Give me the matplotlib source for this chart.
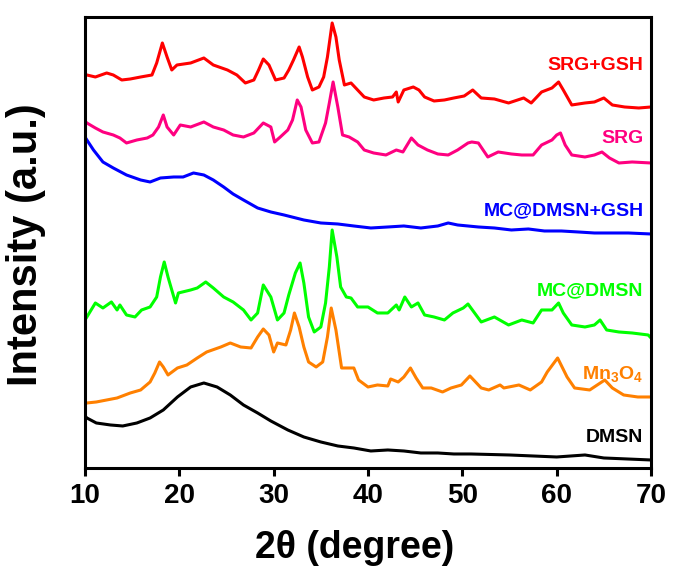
import numpy as np
import matplotlib
matplotlib.use("Agg")
import matplotlib.pyplot as plt

plt.rcParams['font.family'] = ['Liberation Sans', 'DejaVu Sans']
plt.rcParams['font.weight'] = 'bold'
plt.rcParams['mathtext.fontset'] = 'custom'
plt.rcParams['mathtext.rm'] = 'Liberation Sans:bold'
plt.rcParams['mathtext.it'] = 'Liberation Sans:bold'
plt.rcParams['mathtext.bf'] = 'Liberation Sans:bold'

# stacked XRD patterns, intensity in a.u. (offsets already included)
srg_gsh_x = [10.0, 10.2, 11.1, 12.3, 13.0, 13.9, 14.8, 15.9, 17.1, 17.6, 18.2, 18.7, 19.2, 19.75,
             21.2, 22.6, 23.6, 25.1, 26.1, 27.0, 27.9, 28.4, 28.9, 29.5, 30.2, 31.1, 31.6, 32.1,
             32.7, 33.05, 33.6, 34.1, 34.8, 35.3, 35.7, 36.2, 36.6, 36.95, 37.5, 38.2, 38.7,
             39.6, 40.6, 41.7, 42.6, 43.0, 43.2, 43.8, 44.8, 45.4, 46.0, 47.0, 48.1, 49.1,
             50.2, 51.1, 52.0, 53.4, 54.9, 56.5, 57.3, 58.4, 59.5, 60.2, 60.7, 61.6, 63.0,
             64.0, 65.0, 65.9, 67.2, 68.7, 70.0]
srg_gsh_y = [392, 393, 391, 395, 393, 388, 389, 391, 393, 405, 425, 411, 398, 403,
             405, 410, 403, 398, 393, 385, 388, 398, 409, 403, 388, 390, 398, 408,
             421, 411, 391, 378, 381, 391, 411, 445, 431, 408, 383, 385, 380,
             371, 368, 370, 371, 376, 366, 378, 381, 378, 371, 367, 368, 370,
             372, 378, 370, 369, 365, 370, 365, 376, 380, 386, 378, 363, 365,
             366, 370, 363, 361, 360, 361]

srg_x = [10.0, 10.2, 11.1, 11.9, 13.0, 13.7, 14.4, 15.5, 16.6, 17.2, 17.8, 18.3, 18.7, 19.4,
         20.1, 21.2, 22.6, 23.6, 24.7, 25.7, 26.8, 27.9, 28.9, 29.7, 30.1, 30.7, 31.5, 32.0,
         32.5, 32.9, 33.4, 34.1, 34.8, 35.5, 35.9, 36.3, 36.8, 37.3, 38.0, 38.9, 39.6, 40.6,
         41.9, 43.0, 43.7, 44.6, 45.3, 46.3, 47.4, 48.5, 49.5, 50.6, 51.0, 51.7, 52.7, 53.8,
         55.2, 56.3, 57.5, 58.4, 59.5, 60.0, 60.4, 60.9, 61.6, 63.0, 64.0, 64.8, 65.6, 66.6,
         68.0, 70.0]
srg_y = [347, 345, 340, 336, 333, 330, 325, 328, 330, 333, 341, 353, 341, 333,
         343, 341, 346, 341, 338, 333, 331, 335, 345, 341, 326, 331, 338, 348,
         368, 361, 338, 325, 326, 345, 365, 386, 361, 333, 331, 326, 318, 315,
         313, 318, 316, 330, 323, 318, 314, 313, 318, 325, 326, 325, 311, 316,
         314, 313, 313, 323, 328, 333, 335, 323, 313, 311, 313, 316, 310, 305,
         306, 305]

mc_gsh_x = [10.0, 10.2, 10.9, 11.9, 13.0, 14.4, 15.9, 16.9, 18.0, 19.4, 20.4, 21.5, 22.6, 23.6,
            24.7, 25.7, 26.8, 28.3, 29.7, 31.1, 33.2, 35.0, 36.8, 38.5, 40.3, 42.1, 43.8,
            45.6, 47.4, 48.5, 49.5, 51.7, 53.4, 55.2, 57.0, 58.7, 60.5, 62.3, 64.0, 65.9,
            67.6, 70.0]
mc_gsh_y = [331, 328, 318, 306, 300, 293, 288, 286, 290, 291, 291, 295, 293, 288,
            281, 274, 268, 260, 256, 253, 248, 245, 244, 242, 240, 241, 242,
            240, 242, 245, 243, 241, 240, 238, 239, 237, 237, 236, 235, 235,
            235, 234]

mc_x = [10.0, 10.2, 11.1, 11.9, 12.8, 13.4, 13.7, 14.4, 15.3, 16.0, 16.9, 17.6, 18.0, 18.4,
        18.8, 19.6, 19.9, 21.2, 21.9, 22.8, 23.6, 24.7, 25.7, 26.8, 27.6, 28.3, 28.9, 29.7,
        30.4, 31.1, 31.6, 32.3, 32.8, 33.2, 33.7, 34.3, 35.0, 35.5, 35.9, 36.2, 36.7, 37.1,
        37.7, 38.2, 38.9, 40.0, 41.0, 42.1, 43.0, 43.3, 43.9, 44.6, 45.3, 46.0, 47.0, 48.1,
        49.0, 50.1, 50.6, 51.3, 52.0, 53.4, 54.9, 56.3, 57.5, 58.4, 59.5, 60.2, 60.7, 61.6,
        63.0, 64.0, 64.6, 65.3, 66.6, 68.0, 69.7, 70.0]
mc_y = [148, 151, 165, 160, 166, 158, 163, 153, 151, 158, 161, 171, 191, 206,
        191, 165, 175, 178, 180, 186, 180, 171, 166, 158, 148, 155, 183, 171,
        148, 155, 173, 195, 205, 185, 151, 136, 141, 165, 201, 238, 211, 181,
        171, 170, 161, 161, 155, 155, 163, 158, 171, 161, 165, 153, 151, 148,
        155, 160, 164, 155, 146, 151, 143, 148, 145, 158, 158, 165, 155, 143,
        141, 143, 148, 138, 136, 135, 133, 130]

mn3o4_x = [10.0, 10.2, 11.2, 12.3, 13.4, 14.8, 15.9, 16.9, 17.4, 17.9, 18.3, 18.8, 19.8, 20.8,
           21.9, 22.9, 24.4, 25.4, 26.5, 27.6, 28.3, 28.9, 29.5, 30.0, 30.4, 31.3, 31.8, 32.2,
           32.7, 33.2, 33.7, 34.5, 35.2, 35.7, 36.1, 36.6, 37.2, 37.8, 38.5, 39.0, 40.0, 41.0,
           42.1, 42.4, 43.2, 43.8, 44.5, 45.1, 45.8, 46.7, 47.9, 48.8, 49.9, 50.8, 52.0, 52.8,
           54.0, 54.4, 56.0, 57.2, 58.4, 59.0, 60.1, 61.1, 61.9, 63.5, 65.1, 65.9, 67.1, 68.6,
           70.0]
mn3o4_y = [64, 65, 66, 68, 70, 75, 78, 86, 95, 106, 101, 93, 100, 103,
           110, 116, 121, 125, 121, 120, 131, 139, 133, 116, 125, 123, 138, 155,
           141, 121, 106, 101, 106, 131, 160, 138, 100, 100, 100, 88, 81, 83,
           82, 89, 86, 91, 100, 90, 80, 80, 76, 80, 83, 92, 80, 78,
           83, 80, 83, 78, 86, 96, 110, 91, 80, 78, 88, 80, 73, 71,
           71]

dmsn_x = [10.0, 10.2, 11.2, 12.7, 14.0, 15.5, 16.9, 18.3, 19.8, 21.2, 22.6, 24.0, 25.4, 26.8,
          28.3, 29.7, 31.5, 33.2, 35.0, 36.8, 38.5, 40.3, 42.1, 43.8, 45.6, 47.4, 49.1, 50.9,
          55.0, 60.0, 63.0, 65.0, 70.0]
dmsn_y = [52, 50, 45, 43, 42, 45, 50, 58, 71, 81, 85, 81, 73, 63,
          55, 47, 38, 31, 26, 22, 20, 17, 18, 17, 15, 15, 14, 14,
          13, 11, 13, 10, 8]

names = ['SRG+GSH', 'SRG', 'MC@DMSN+GSH', 'MC@DMSN', r'Mn$_3$O$_4$', 'DMSN']
colors = ['#ff0000', '#ff0080', '#0000ff', '#00ff00', '#ff8000', '#000000']
label_y = [402, 329, 257, 177, 94, 30]

fig = plt.figure(figsize=(6.74, 5.74), dpi=100)
ax = fig.add_axes([0.1261, 0.1847, 0.8398, 0.7857])

series = [(srg_gsh_x, srg_gsh_y), (srg_x, srg_y), (mc_gsh_x, mc_gsh_y),
          (mc_x, mc_y), (mn3o4_x, mn3o4_y), (dmsn_x, dmsn_y)]
for (xs, ys), c, name, ly in zip(series, colors, names, label_y):
    ax.plot(xs, ys, color=c, lw=2.2)
    ax.text(69.2, ly, name, color=c, fontsize=14, fontweight='bold',
            ha='right', va='center')

ax.set_xlim(10, 70)
ax.set_ylim(0, 451)
ax.set_xticks(np.arange(10, 71, 10))
ax.set_yticks([])
ax.tick_params(axis='x', direction='out', length=6, width=2.2, labelsize=20, pad=5)
for lab in ax.get_xticklabels():
    lab.set_fontweight('bold')
for s in ax.spines.values():
    s.set_linewidth(2.2)

fig.text(355 / 674, 1 - 548 / 574, '2θ (degree)', fontsize=27, fontweight='bold',
         ha='center', va='center')
fig.text(26 / 674, 1 - 245 / 574, 'Intensity (a.u.)', fontsize=30, fontweight='bold',
         rotation=90, ha='center', va='center')

fig.savefig('out.png', dpi=100)
